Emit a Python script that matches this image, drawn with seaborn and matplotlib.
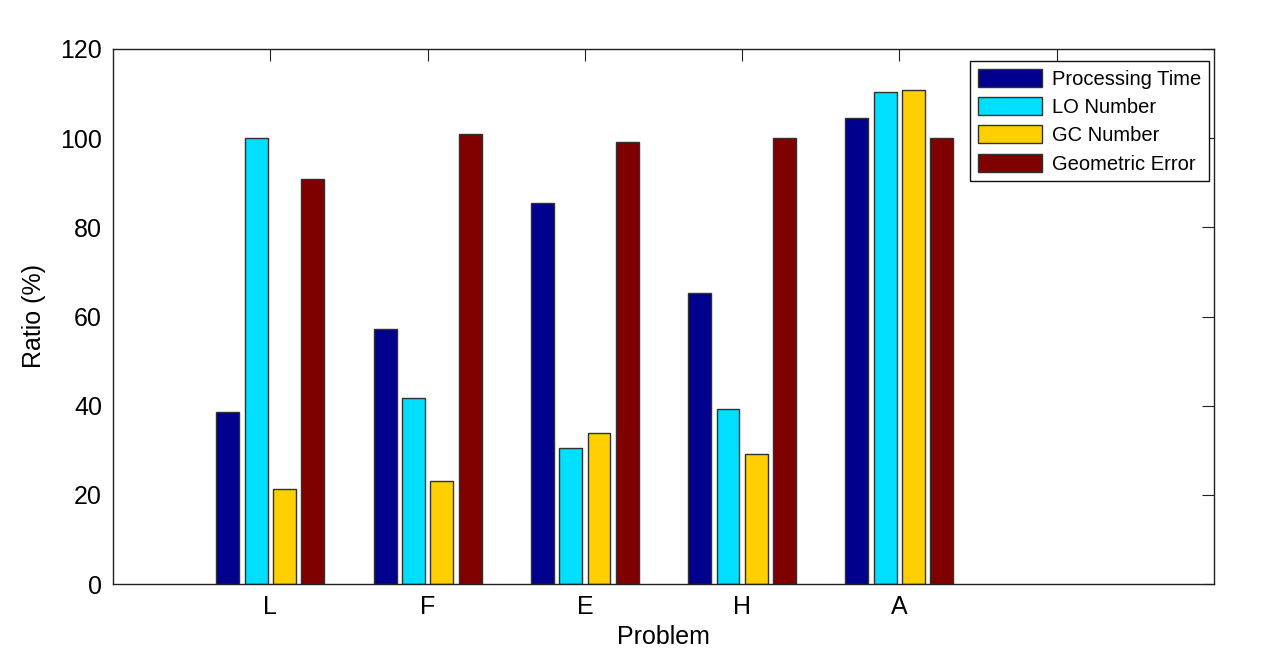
import matplotlib
matplotlib.use("Agg")
import matplotlib.pyplot as plt
import seaborn as sns
import pandas as pd

problems = ["L", "F", "E", "H", "A"]
series = ["Processing Time", "LO Number", "GC Number", "Geometric Error"]
processing_time = [38.5, 57.1, 85.5, 65.2, 104.5]
lo_number = [100.0, 41.7, 30.4, 39.2, 110.4]
gc_number = [21.3, 23.1, 33.9, 29.1, 110.7]
geometric_error = [90.8, 100.9, 99.1, 100.0, 100.0]
colors = ["#00008F", "#00DFFF", "#FFCF00", "#800000"]
yticks = [0, 20, 40, 60, 80, 100, 120]

rows = []
for name, vals in zip(series, [processing_time, lo_number, gc_number, geometric_error]):
    for p, v in zip(problems, vals):
        rows.append({"Problem": p, "Ratio": v, "Metric": name})
df = pd.DataFrame(rows)

sns.set_style("white")
plt.rcParams["font.family"] = ["Liberation Sans", "DejaVu Sans"]
plt.rcParams["text.color"] = "black"
plt.rcParams["axes.labelcolor"] = "black"
plt.rcParams["xtick.color"] = "black"
plt.rcParams["ytick.color"] = "black"

fig = plt.figure(figsize=(12.75, 6.57), dpi=100)
ax = fig.add_axes([113 / 1275, 1 - 584 / 657, (1214 - 113) / 1275, (584 - 49) / 657])

sns.barplot(data=df, x="Problem", y="Ratio", hue="Metric", order=problems,
            hue_order=series, palette=colors, saturation=1, errorbar=None,
            width=0.72, gap=0.19, edgecolor="#303030", linewidth=1.0, ax=ax)

ax.set_xlim(-1, 6)
ax.set_ylim(0, 120)
ax.set_xticks(range(6))
ax.set_xticklabels(problems + [""])
ax.set_yticks(yticks)
ax.set_xlabel("Problem", fontsize=18, labelpad=4, color="black")
ax.set_ylabel("Ratio (%)", fontsize=18, labelpad=10, color="black")
ax.tick_params(axis="both", which="major", direction="in", length=8.5, width=0.8,
               top=True, right=True, labelsize=18, color="#202020",
               labelcolor="black", pad=8)
for s in ax.spines.values():
    s.set_visible(True)
    s.set_color("#202020")
    s.set_linewidth(1.0)

leg = ax.legend(loc="upper right", bbox_to_anchor=(0.9955, 0.9776), borderaxespad=0,
                fontsize=14.5, frameon=True, fancybox=False, framealpha=1,
                edgecolor="#101010", handlelength=3.2, handleheight=1.0,
                handletextpad=0.5, labelspacing=0.42, borderpad=0.38, title=None)
leg.get_frame().set_linewidth(1.0)
for t in leg.get_texts():
    t.set_color("black")

fig.savefig("out.png", dpi=100, facecolor="white")
